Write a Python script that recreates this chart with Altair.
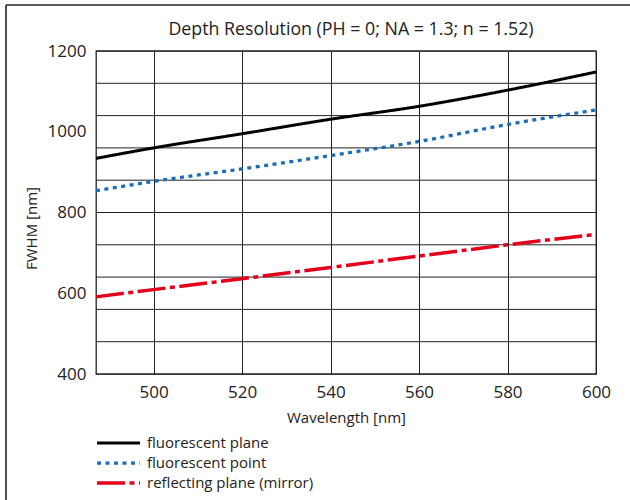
import altair as alt
import pandas as pd

# ---- data ----
wavelength = [487, 500, 520, 540, 560, 580, 600]
fluor_plane = [934, 960, 995, 1031, 1063, 1103, 1148]
fluor_point = [854, 877, 908, 941, 976, 1018, 1054]
reflect_plane = [591, 609, 636, 664, 692, 720, 746]

series_names = ["fluorescent plane", "fluorescent point", "reflecting plane (mirror)"]
series_colors = ["#000000", "#1a6cb5", "#e3001b"]
series_dashes = [[1, 0], [4, 4.5], [28, 4.5, 5, 4.5]]
series_widths = [3, 3.5, 4]

y_grid_values = [400, 480, 560, 640, 720, 800, 880, 960, 1040, 1120, 1200]
y_label_values = [400, 600, 800, 1000, 1200]
x_tick_values = [500, 520, 540, 560, 580, 600]
x_domain = [487, 600]
y_domain = [400, 1200]

FONT = "Open Sans"
TXT = "#222222"

rows = []
for name, vals in zip(series_names, [fluor_plane, fluor_point, reflect_plane]):
    for w, v in zip(wavelength, vals):
        rows.append({"wavelength": w, "fwhm": v, "series": name})
df = pd.DataFrame(rows)

y_axis = alt.Axis(values=y_label_values, grid=False, title="FWHM [nm]", format="d",
                  labelPadding=10, labelFlush=False, titleX=-65, titleY=177,
                  titleAlign="center", titleBaseline="middle")
y_scale = alt.Scale(domain=y_domain, nice=False, zero=False)
x_scale = alt.Scale(domain=x_domain, nice=False, zero=False)

legend_common = dict(
    orient="none", legendX=-1, legendY=383, title=None,
    symbolType="stroke", symbolSize=1849, symbolStrokeWidth=3.5,
    labelFont=FONT, labelFontSize=15, labelColor=TXT, labelOffset=5, labelLimit=400,
    clipHeight=18, rowPadding=2, padding=0,
)

grid = alt.Chart(pd.DataFrame({"g": y_grid_values})).mark_rule(
    color="#222222", strokeWidth=1
).encode(y=alt.Y("g:Q", scale=y_scale, axis=y_axis))

lines = alt.Chart(df).mark_line(interpolate="monotone").encode(
    x=alt.X("wavelength:Q", scale=x_scale,
            axis=alt.Axis(values=x_tick_values, grid=True, title="Wavelength [nm]",
                          format="d", labelPadding=10, labelFlush=False,
                          titleY=43, titleBaseline="middle")),
    y=alt.Y("fwhm:Q", scale=y_scale, axis=y_axis),
    color=alt.Color("series:N", scale=alt.Scale(domain=series_names, range=series_colors),
                    legend=alt.Legend(**legend_common)),
    strokeDash=alt.StrokeDash("series:N", scale=alt.Scale(domain=series_names, range=series_dashes),
                              legend=alt.Legend(**legend_common)),
    strokeWidth=alt.StrokeWidth("series:N", scale=alt.Scale(domain=series_names, range=series_widths),
                                legend=None),
)

one = alt.Data(values=[{}])
frame_top = alt.Chart(one).mark_rule(color="#222222", strokeWidth=1.6).encode(
    x=alt.value(-90), x2=alt.value(534), y=alt.value(-46))
frame_left = alt.Chart(one).mark_rule(color="#222222", strokeWidth=1.6).encode(
    x=alt.value(-90), y=alt.value(-46), y2=alt.value(449))

chart = alt.layer(grid, lines, frame_top, frame_left).properties(
    width=500, height=323,
    title=alt.TitleParams("Depth Resolution (PH = 0; NA = 1.3; n = 1.52)",
                          font=FONT, fontSize=17.8, fontWeight="normal", color=TXT,
                          anchor="middle", offset=13, frame="group", dy=48, dx=5),
    autosize=alt.AutoSizeParams(type="none"),
    padding={"left": 96, "top": 51, "right": 34, "bottom": 126},
).configure_view(
    stroke="#222222", strokeWidth=1.3
).configure_axis(
    labelFont=FONT, labelFontSize=17, labelColor=TXT,
    titleFont=FONT, titleFontSize=15, titleFontWeight="normal", titleColor=TXT,
    domain=False, ticks=False, tickSize=0,
    gridColor="#222222", gridWidth=1, gridOpacity=1,
)

chart.save("out.html", embed_options={"renderer": "svg", "actions": False})
